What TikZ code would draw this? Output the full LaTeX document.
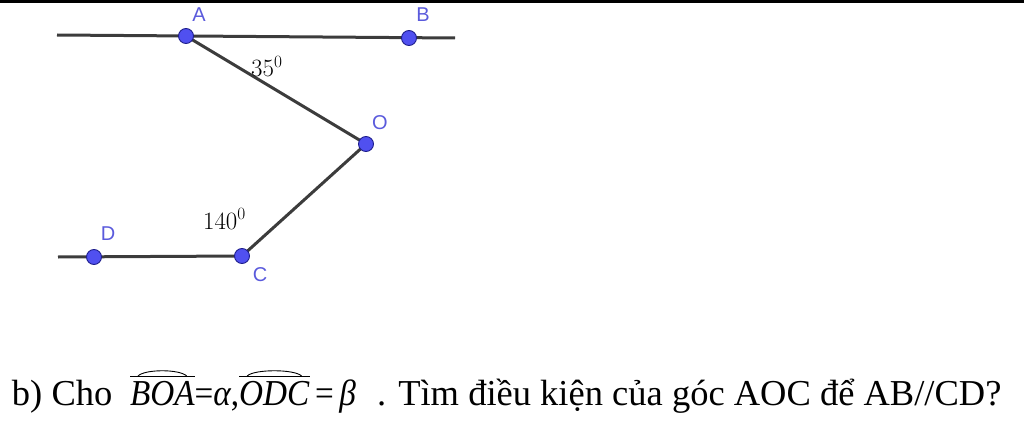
\documentclass[tikz,border=0pt]{standalone}
\usepackage{graphicx}
\usepackage{fontspec}
\setmainfont{Liberation Serif}
\newfontfamily\lblfont{Liberation Sans}
\newcommand{\mysq}[1]{\scalebox{0.91}[1]{#1}}
\begin{document}
\begin{tikzpicture}[x=1pt,y=-1pt]
\definecolor{ptfill}{RGB}{80,80,240}
\definecolor{ptdraw}{RGB}{30,30,140}
\definecolor{lblcol}{RGB}{90,90,220}
\definecolor{segcol}{RGB}{60,60,60}
\tikzset{
  pt/.style={circle,fill=ptfill,draw=ptdraw,line width=0.9pt,minimum size=15pt,inner sep=0pt},
  seg/.style={draw=segcol,line width=3pt},
  lbl/.style={text=lblcol,font=\lblfont\fontsize{20}{23}\selectfont,inner sep=0pt},
  ang/.style={font=\fontsize{24}{28}\selectfont,inner sep=0pt,anchor=base west},
  txt/.style={inner sep=0pt,outer sep=0pt,font=\fontsize{36.5}{42}\selectfont,anchor=base west},
  hat/.style={line width=0.9pt}
}
\useasboundingbox (0,0) rectangle (1024,425);
\fill[black] (0,0) rectangle (1024,3);
% points
\coordinate (L1) at (57,35);
\coordinate (R1) at (455,38);
\coordinate (L2) at (58,257);
\coordinate (A) at (186,36);
\coordinate (B) at (409,38);
\coordinate (O) at (366,144);
\coordinate (C) at (242,256);
\coordinate (D) at (94,257);
% segments
\path[seg] (L1) -- (R1);
\path[seg] (A) -- (O);
\path[seg] (O) -- (C);
\path[seg] (L2) -- (C);
% points on top
\node[pt] (pA) at (A) {};
\node[pt] (pB) at (B) {};
\node[pt] (pO) at (O) {};
\node[pt] (pC) at (C) {};
\node[pt] (pD) at (D) {};
% labels
\node[lbl] (lA) at (199,15) {A};
\node[lbl] (lB) at (423,15) {B};
\node[lbl] (lO) at (380,123) {O};
\node[lbl] (lD) at (108,234) {D};
\node[lbl] (lC) at (260,275) {C};
% angle labels
\node[ang] (a35) at (251,77) {$35^0$};
\node[ang] (a140) at (203,229) {$140^0$};
% bottom text
\node[txt] (t1) at (12,405) {b) Cho};
\node[txt] (m1) at (130,405) {\mysq{\textit{BOA}}};
\node[txt] (m2) at (m1.base east) {\mysq{=\textit{α},}};
\node[txt] (m5) at (m2.base east) {\mysq{\textit{ODC}}};
\node[txt] (m6) at (m5.base east) {\mysq{\,=\,\textit{β}}};
\node[txt] (t2) at (377,405) {. Tìm điều kiện của góc AOC để AB//CD?};
\draw[hat] (m1.west |- 0,376) -- (m1.east |- 0,376);
\draw[hat] ([xshift=8pt]m1.west |- 0,376) .. controls ([xshift=15pt]m1.west |- 0,369) and ([xshift=-15pt]m1.east |- 0,369) .. ([xshift=-8pt]m1.east |- 0,376);
\draw[hat] (m5.west |- 0,376) -- (m5.east |- 0,376);
\draw[hat] ([xshift=8pt]m5.west |- 0,376) .. controls ([xshift=15pt]m5.west |- 0,369) and ([xshift=-15pt]m5.east |- 0,369) .. ([xshift=-8pt]m5.east |- 0,376);
\end{tikzpicture}
\end{document}
